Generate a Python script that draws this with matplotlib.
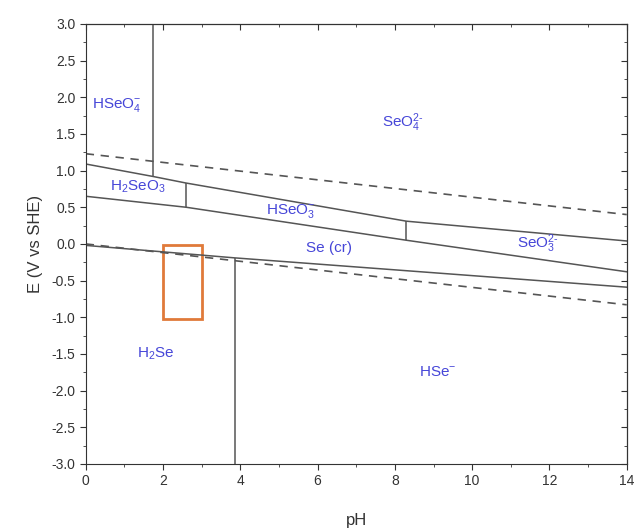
import matplotlib.pyplot as plt
from matplotlib.ticker import MultipleLocator
from matplotlib.patches import Rectangle

plt.rcParams['font.family'] = ['Liberation Sans', 'DejaVu Sans']
plt.rcParams['mathtext.fontset'] = 'custom'
plt.rcParams['mathtext.rm'] = 'Liberation Sans'
plt.rcParams['mathtext.it'] = 'Liberation Sans'

# water stability lines
water_ph = [0, 14]
o2_E = [1.23, 0.40]
h2_E = [0.0, -0.83]

# species boundaries (pH, E)
upper_ph = [0, 1.74, 2.6, 8.3, 14]
upper_E = [1.09, 0.92, 0.83, 0.31, 0.04]
middle_ph = [0, 2.6, 8.3, 14]
middle_E = [0.65, 0.50, 0.05, -0.38]
lower_ph = [0, 3.85, 14]
lower_E = [-0.02, -0.19, -0.59]

# vertical boundaries: pH, E bottom, E top
vert_ph = [1.74, 2.6, 8.3, 3.85]
vert_lo = [0.92, 0.50, 0.05, -3.0]
vert_hi = [3.0, 0.83, 0.31, -0.19]

labels = [r'HSeO$_4^{-}$', r'SeO$_4^{2\text{-}}$', r'H$_2$SeO$_3$', r'HSeO$_3^{-}$',
          'Se (cr)', r'SeO$_3^{2\text{-}}$', r'H$_2$Se', r'HSe$^{-}$']
label_ph = [0.8, 8.2, 1.35, 5.3, 6.3, 11.7, 1.8, 9.1]
label_E = [1.9, 1.65, 0.78, 0.45, -0.05, 0.0, -1.5, -1.75]

fig = plt.figure(figsize=(6.35, 5.32), dpi=100)
ax = fig.add_axes([0.135, 0.128, 0.852, 0.827])

gray = '#555555'
ax.plot(water_ph, o2_E, '--', color=gray, lw=1.2, dashes=(5, 4))
ax.plot(water_ph, h2_E, '--', color=gray, lw=1.2, dashes=(5, 4))
ax.plot(upper_ph, upper_E, color=gray, lw=1.1)
ax.plot(middle_ph, middle_E, color=gray, lw=1.1)
ax.plot(lower_ph, lower_E, color=gray, lw=1.1)
ax.vlines(vert_ph, vert_lo, vert_hi, color=gray, lw=1.1)

for t, x, y in zip(labels, label_ph, label_E):
    ax.text(x, y, t, color='#4646d8', fontsize=11, ha='center', va='center')

# highlighted region
ax.add_patch(Rectangle((2.0, -1.02), 1.0, 1.0, fill=False, ec='#e07a3a', lw=2))

ax.set_xlim(0, 14)
ax.set_ylim(-3, 3)
ax.xaxis.set_major_locator(MultipleLocator(2))
ax.xaxis.set_minor_locator(MultipleLocator(1))
ax.yaxis.set_major_locator(MultipleLocator(0.5))
ax.yaxis.set_minor_locator(MultipleLocator(0.25))
ax.yaxis.set_major_formatter(plt.FormatStrFormatter('%.1f'))
ax.tick_params(which='both', direction='out', labelsize=10, colors='#333333')
ax.tick_params(which='major', length=4)
ax.tick_params(which='minor', length=2.5)

# inward ticks on top and right
sx = ax.secondary_xaxis('top')
sx.xaxis.set_major_locator(MultipleLocator(2))
sx.xaxis.set_minor_locator(MultipleLocator(1))
sx.tick_params(which='both', direction='in', labeltop=False, colors='#333333')
sx.tick_params(which='major', length=4)
sx.tick_params(which='minor', length=2.5)
sy = ax.secondary_yaxis('right')
sy.yaxis.set_major_locator(MultipleLocator(0.5))
sy.yaxis.set_minor_locator(MultipleLocator(0.25))
sy.tick_params(which='both', direction='in', labelright=False, colors='#333333')
sy.tick_params(which='major', length=4)
sy.tick_params(which='minor', length=2.5)
for s in ax.spines.values():
    s.set_color('#333333')
ax.set_xlabel('pH', fontsize=12, color='#333333', labelpad=18)
ax.set_ylabel('E (V vs SHE)', fontsize=12, color='#333333', labelpad=6)

fig.savefig('out.png', dpi=100)
